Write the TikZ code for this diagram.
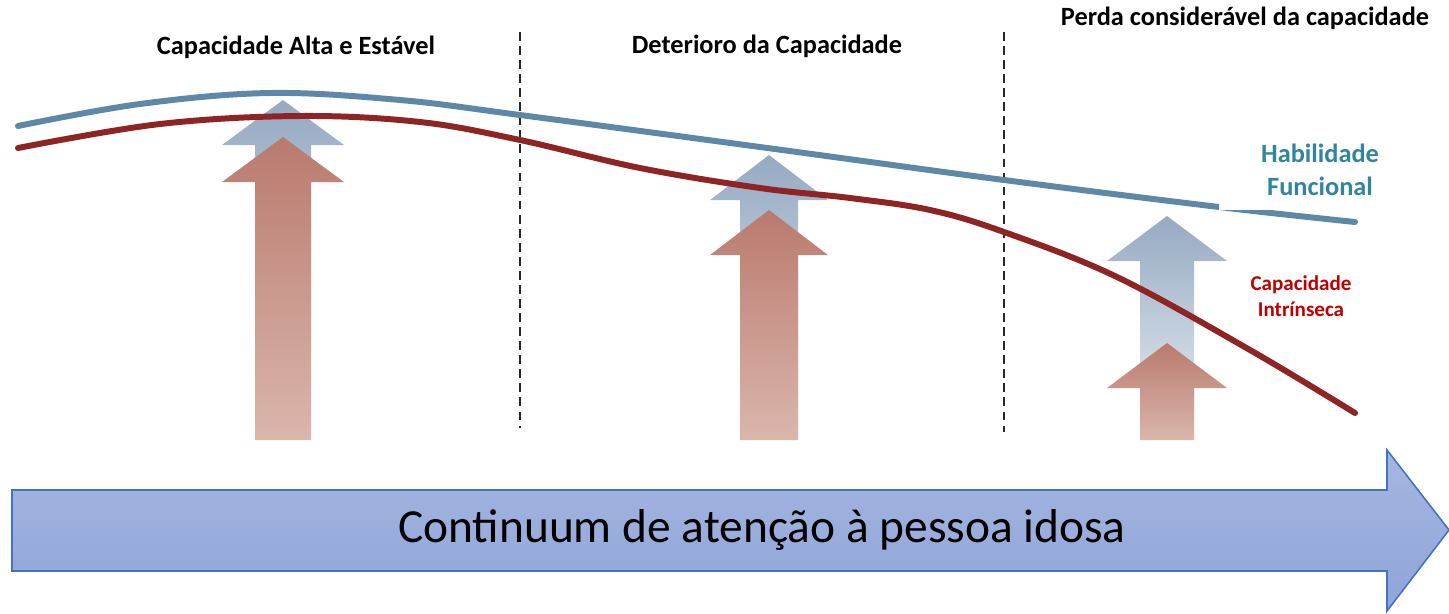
\documentclass[tikz,border=0pt]{standalone}
\usepackage{fontspec}
\setmainfont{Carlito}
\usepackage{tikz}
\usetikzlibrary{positioning}
\definecolor{habblue}{RGB}{94,136,168}
\definecolor{habtext}{RGB}{49,133,156}
\definecolor{capred}{RGB}{142,36,36}
\definecolor{captext}{RGB}{192,0,0}
\definecolor{contborder}{RGB}{68,114,196}
\tikzset{
    x=0.02cm, y=-0.02cm, % one unit is one pixel of the layout
    phase/.style={ % titles of the three phases
        font=\fontsize{15}{18}\selectfont\bfseries,
        text=black
    },
    divider/.style={ % dashed lines between the phases
        draw=black!85,
        line width=1.1pt,
        dash pattern=on 5pt off 3pt
    },
    curve/.style={ % the two trajectories
        line width=3.4pt,
        line cap=round
    },
    bluearrow/.style={
        top color={rgb,255:red,150;green,170;blue,195},
        bottom color={rgb,255:red,236;green,241;blue,245}
    },
    redarrow/.style={
        top color={rgb,255:red,186;green,122;blue,110},
        bottom color={rgb,255:red,218;green,182;blue,172}
    },
    curvelabel/.style={ % labels on white boxes
        fill=white,
        align=center,
        inner sep=0pt,
        font=\bfseries
    }
}

\begin{document}
\begin{tikzpicture}
    \useasboundingbox (0,0) rectangle (1449,613);

    % phase titles
    \node[phase] (alta)      at (296,47)  {Capacidade Alta e Estável};
    \node[phase] (deterioro) at (767,46)  {Deterioro da Capacidade};
    \node[phase] (perda)     at (1245,18) {Perda considerável da capacidade};

    % dividers
    \coordinate (d1top) at (520,32);  \coordinate (d1bot) at (520,428);
    \coordinate (d2top) at (1004,32); \coordinate (d2bot) at (1004,432);
    \draw[divider] (d1top) -- (d1bot);
    \draw[divider] (d2top) -- (d2bot);

    % upward arrows: x, blue tip, red tip, half head, half shaft
    \foreach \x/\b/\r/\h/\s in {283/100/137/61/28, 769/155/210/59/29, 1167/216/343/60/27}{
        \shade[bluearrow] (\x,\b) -- (\x+\h,\b+45) -- (\x+\s,\b+45) -- (\x+\s,440)
            -- (\x-\s,440) -- (\x-\s,\b+45) -- (\x-\h,\b+45) -- cycle;
        \shade[redarrow] (\x,\r) -- (\x+\h,\r+45) -- (\x+\s,\r+45) -- (\x+\s,440)
            -- (\x-\s,440) -- (\x-\s,\r+45) -- (\x-\h,\r+45) -- cycle;
    }

    % functional ability and intrinsic capacity
    \draw[curve, habblue] plot[smooth, tension=0.6] coordinates {(18,126) (140,104) (270,93)
        (400,100) (520,115) (760,147) (1004,180) (1219,207) (1355,222)};
    \draw[curve, capred] plot[smooth, tension=0.6] coordinates {(18,148) (160,124) (300,116)
        (420,122) (520,140) (640,168) (760,188) (850,198) (930,210) (1004,232) (1117,277)
        (1250,350) (1355,413)};

    \node[curvelabel, text=habtext, minimum width=4.04cm, minimum height=1.6cm,
        font=\fontsize{15}{19}\selectfont\bfseries] (habil) at (1320,170) {Habilidade\\Funcional};
    \node[curvelabel, text=captext, minimum width=3.2cm, minimum height=1.3cm,
        font=\fontsize{12}{15}\selectfont\bfseries] (capint) at (1301,296) {Capacidade\\Intrínseca};

    % continuum arrow
    \shade[top color={rgb,255:red,165;green,182;blue,224}, bottom color={rgb,255:red,143;green,165;blue,216},
        draw=contborder, line width=0.9pt]
        (12,490) -- (1387,490) -- (1387,450) -- (1449,530) -- (1387,611) -- (1387,571) -- (12,571) -- cycle;
    \node[font=\fontsize{27}{32}\selectfont] (continuum) at (762,530) {Continuum de atenção à pessoa idosa};
\end{tikzpicture}
\end{document}
